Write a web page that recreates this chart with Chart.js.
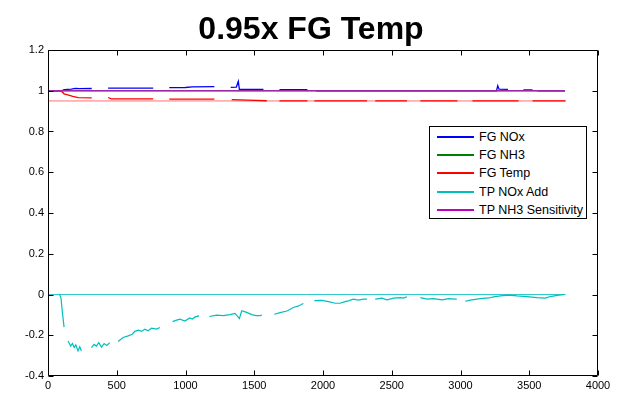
<!DOCTYPE html>
<html>
<head>
<meta charset="utf-8">
<script src="https://cdn.jsdelivr.net/npm/chart.js@4"></script>
<style>
    html, body { margin: 0; padding: 0; background: #fff; }
    #wrap { position: relative; width: 620px; height: 396px; }
    #legend {
        position: absolute; left: 429px; top: 126px; width: 156px; height: 91px;
        border: 1px solid #000; background: #fff;
        font: 12.5px "Liberation Sans", Arial, Helvetica, sans-serif; color: #000;
    }
    #legend .row { position: absolute; left: 0; width: 100%; height: 16px; }
    #legend .swatch { position: absolute; left: 7px; top: 7px; width: 37px; height: 2px; }
    #legend .name { position: absolute; left: 49px; top: 0; line-height: 16px; white-space: nowrap; }
</style>
</head>
<body>
<div id="wrap">
    <canvas id="chart" width="620" height="396"></canvas>
    <div id="legend"></div>
</div>
<script>
// 系列名称和颜色
const seriesNames = ['FG NOx', 'FG NH3', 'FG Temp', 'TP NOx Add', 'TP NH3 Sensitivity'];
const seriesColors = ['#0000ff', '#008000', '#ff0000', '#00bfbf', '#bf00bf'];

// 坐标轴刻度
const xTicks = [0, 500, 1000, 1500, 2000, 2500, 3000, 3500, 4000];
const yTicks = [-0.4, -0.2, 0, 0.2, 0.4, 0.6, 0.8, 1, 1.2];

// FG NOx
const noxX = [0, 95, 120, 170, 200, 230, 318, 330,
    437, 600, 765, 800,
    882, 1000, 1050, 1210, 1220,
    1329, 1370, 1384, 1392, 1567, 1600,
    1683, 1887, 1900,
    1950, 3262, 3271, 3280, 3345, 3400,
    3457, 3524, 3540,
    3560, 3760];
const noxY = [1, 1, 1.006, 1.008, 1.012, 1.01, 1.011, null,
    1.013, 1.013, 1.013, null,
    1.015, 1.016, 1.019, 1.02, null,
    1.017, 1.018, 1.046, 1.007, 1.007, null,
    1.006, 1.006, null,
    1, 1, 1.025, 1.008, 1.007, null,
    1.004, 1.004, null,
    1, 1];

// FG NH3
const nh3X = [0, 3760];
const nh3Y = [1, 1];

// FG Temp
const tempX = [0, 95, 117, 150, 180, 220, 318, 330,
    437, 460, 765, 800,
    882, 1210, 1220,
    1336, 1450, 1591, 1620,
    1683, 1887, 1900,
    1937, 2320, 2340,
    2380, 2611, 2640,
    2708, 2978, 3000,
    3087, 3422, 3440,
    3524, 3764];
const tempY = [1, 1, 0.985, 0.978, 0.972, 0.966, 0.965, null,
    0.967, 0.96, 0.96, null,
    0.959, 0.959, null,
    0.956, 0.954, 0.951, null,
    0.95, 0.95, null,
    0.95, 0.95, null,
    0.95, 0.95, null,
    0.95, 0.95, null,
    0.95, 0.95, null,
    0.95, 0.95];
const tempBaseX = [0, 3764];
const tempBaseY = [0.95, 0.95];

// TP NOx Add
const addX = [85, 95, 105, 117, 130,
    146, 165, 178, 190, 202, 218, 231, 243, 260,
    316, 335, 352, 369, 389, 408, 428, 449, 470,
    510, 546, 583, 612, 632, 656, 680, 704, 729, 753, 790, 813, 840,
    906, 935, 960, 996, 1030, 1050, 1070, 1099, 1120,
    1173, 1227, 1276, 1324, 1360, 1392, 1409, 1445, 1482, 1513, 1542, 1555, 1580,
    1646, 1688, 1737, 1785, 1822, 1857, 1880,
    1937, 1992, 2040, 2089, 2124, 2160, 2184, 2221, 2257, 2294, 2320, 2340,
    2380, 2429, 2465, 2514, 2562, 2587, 2611, 2640,
    2708, 2757, 2805, 2866, 2914, 2963, 2973, 3000,
    3034, 3071, 3144, 3205, 3241, 3290, 3350, 3411, 3483, 3556, 3617, 3653, 3702, 3762];
const addY = [0, -0.02, -0.09, -0.16, null,
    -0.228, -0.253, -0.24, -0.26, -0.247, -0.277, -0.257, -0.277, null,
    -0.261, -0.245, -0.253, -0.236, -0.258, -0.241, -0.25, -0.236, null,
    -0.231, -0.211, -0.203, -0.195, -0.181, -0.175, -0.181, -0.17, -0.178, -0.165, -0.17, -0.162, null,
    -0.133, -0.126, -0.121, -0.13, -0.115, -0.12, -0.11, -0.105, null,
    -0.108, -0.101, -0.104, -0.099, -0.093, -0.118, -0.08, -0.088, -0.099, -0.104, -0.104, -0.1, null,
    -0.097, -0.089, -0.081, -0.064, -0.056, -0.044, null,
    -0.03, -0.029, -0.035, -0.043, -0.043, -0.035, -0.031, -0.023, -0.028, -0.023, -0.023, null,
    -0.023, -0.018, -0.026, -0.018, -0.015, -0.018, -0.011, null,
    -0.015, -0.023, -0.02, -0.026, -0.02, -0.023, -0.023, null,
    -0.033, -0.028, -0.02, -0.017, -0.012, -0.007, -0.003, -0.007, -0.01, -0.015, -0.018, -0.01, -0.004, 0];
const addBaseX = [0, 3762];
const addBaseY = [0, 0];

// TP NH3 Sensitivity
const sensX = [0, 3760];
const sensY = [1, 1];

function pts(xs, ys) {
    return xs.map((x, i) => ({ x: x, y: ys[i] }));
}

function line(label, xs, ys, color, order, width) {
    return {
        label: label,
        data: pts(xs, ys),
        borderColor: color,
        backgroundColor: color,
        borderWidth: width || 1,
        pointRadius: 0,
        tension: 0,
        spanGaps: false,
        order: order
    };
}

// 边框和向内的刻度线
const framePlugin = {
    id: 'frame',
    afterDatasetsDraw(chart) {
        const { ctx, chartArea: a, scales } = chart;
        const l = Math.round(a.left) + 0.5, r = Math.round(a.right) - 0.5;
        const t = Math.round(a.top) + 0.5, b = Math.round(a.bottom) - 0.5;
        ctx.save();
        ctx.strokeStyle = '#000';
        ctx.lineWidth = 1;
        ctx.beginPath();
        ctx.rect(l, t, r - l, b - t);
        xTicks.forEach(v => {
            const px = Math.round(scales.x.getPixelForValue(v)) + 0.5;
            ctx.moveTo(px, b); ctx.lineTo(px, b - 5);
            ctx.moveTo(px, t); ctx.lineTo(px, t + 5);
        });
        yTicks.forEach(v => {
            const py = Math.round(scales.y.getPixelForValue(v)) + 0.5;
            ctx.moveTo(l, py); ctx.lineTo(l + 5, py);
            ctx.moveTo(r, py); ctx.lineTo(r - 5, py);
        });
        ctx.stroke();
        ctx.restore();
    }
};

const tickFont = { family: '"Liberation Sans", Arial, Helvetica, sans-serif', size: 11 };

const ctx = document.getElementById('chart').getContext('2d');
new Chart(ctx, {
    type: 'line',
    data: {
        datasets: [
            line(seriesNames[0], noxX, noxY, seriesColors[0], 6, 1.3),
            line(seriesNames[1], nh3X, nh3Y, seriesColors[1], 5),
            line(seriesNames[2], tempX, tempY, seriesColors[2], 3, 1.3),
            line('', tempBaseX, tempBaseY, '#ff7070', 4),
            line(seriesNames[3], addX, addY, seriesColors[3], 1, 1.2),
            line('', addBaseX, addBaseY, '#30c8c8', 2),
            line(seriesNames[4], sensX, sensY, '#9c2aa6', 0, 1.6)
        ]
    },
    options: {
        responsive: false,
        animation: false,
        devicePixelRatio: 1,
        layout: { padding: { left: 24, right: 22, top: 0, bottom: 0 } },
        plugins: {
            legend: { display: false },
            tooltip: { enabled: false },
            title: {
                display: true,
                text: '0.95x FG Temp',
                color: '#000',
                font: { family: '"Liberation Sans", Arial, Helvetica, sans-serif', size: 32, weight: 'bold', lineHeight: 1.2 },
                padding: { top: 11, bottom: 0.6 }
            }
        },
        scales: {
            x: {
                type: 'linear',
                min: 0,
                max: 4000,
                afterBuildTicks: s => { s.ticks = xTicks.map(v => ({ value: v })); },
                afterFit: s => { s.height = 20; },
                grid: { display: false, drawTicks: false },
                border: { display: false },
                ticks: {
                    color: '#000', font: tickFont, padding: 3, maxRotation: 0, autoSkip: false,
                    callback: v => String(v)
                }
            },
            y: {
                type: 'linear',
                min: -0.4,
                max: 1.2,
                afterBuildTicks: s => { s.ticks = yTicks.map(v => ({ value: v })); },
                afterFit: s => { s.width = 24; },
                grid: { display: false, drawTicks: false },
                border: { display: false },
                ticks: {
                    color: '#000', font: tickFont, padding: 4,
                    callback: v => String(Number(v.toFixed(1)))
                }
            }
        }
    },
    plugins: [framePlugin]
});

// 图例
const legend = document.getElementById('legend');
seriesNames.forEach((name, i) => {
    const row = document.createElement('div');
    row.className = 'row';
    row.style.top = (2 + i * 18.2) + 'px';
    row.innerHTML = '<div class="swatch" style="background-color:' + seriesColors[i] + '"></div>' +
        '<div class="name">' + name + '</div>';
    legend.appendChild(row);
});
</script>
</body>
</html>
